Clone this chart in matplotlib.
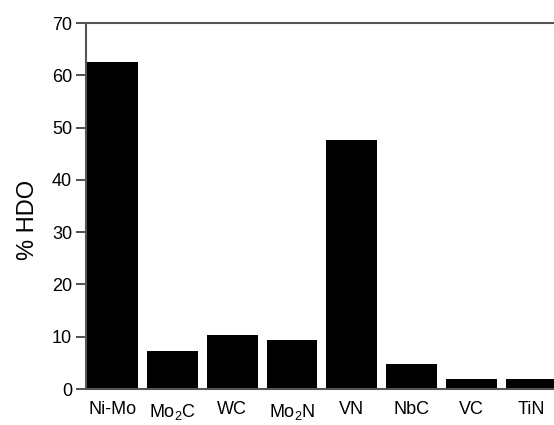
import numpy as np
import matplotlib.pyplot as plt

plt.rcParams['font.family'] = ['Liberation Sans', 'DejaVu Sans']
plt.rcParams['mathtext.fontset'] = 'custom'
plt.rcParams['mathtext.rm'] = 'Liberation Sans'
plt.rcParams['mathtext.it'] = 'Liberation Sans'
plt.rcParams['mathtext.default'] = 'regular'

catalysts = ['Ni-Mo', 'Mo$_2$C', 'WC', 'Mo$_2$N', 'VN', 'NbC', 'VC', 'TiN']
hdo = [62.6, 7.2, 10.3, 9.4, 47.6, 4.8, 1.9, 1.9]

fig = plt.figure(figsize=(5.54, 4.25), dpi=100)
ax = fig.add_axes([86 / 554, 1 - 389 / 425, 1 - 86 / 554, (389 - 23) / 425])

x = np.arange(len(catalysts))
ax.bar(x, hdo, width=0.85, color='black')

ax.set_xlim(-0.443, 7.38)
ax.set_ylim(0, 70)
ax.set_yticks(np.arange(0, 71, 10))
ax.set_xticks(x)
ax.set_xticklabels(catalysts)
ax.tick_params(axis='y', labelsize=13, length=7, width=1.2, color='#333333', pad=3)
ax.tick_params(axis='x', labelsize=13, length=0, pad=9)
ax.set_ylabel('% HDO', fontsize=17)
ax.yaxis.set_label_coords(-0.1, 0.462)

ax.spines['right'].set_visible(False)
for s in ['left', 'top', 'bottom']:
    ax.spines[s].set_color('#555555')
    ax.spines[s].set_linewidth(1.5)

fig.savefig('out.png', dpi=100)
